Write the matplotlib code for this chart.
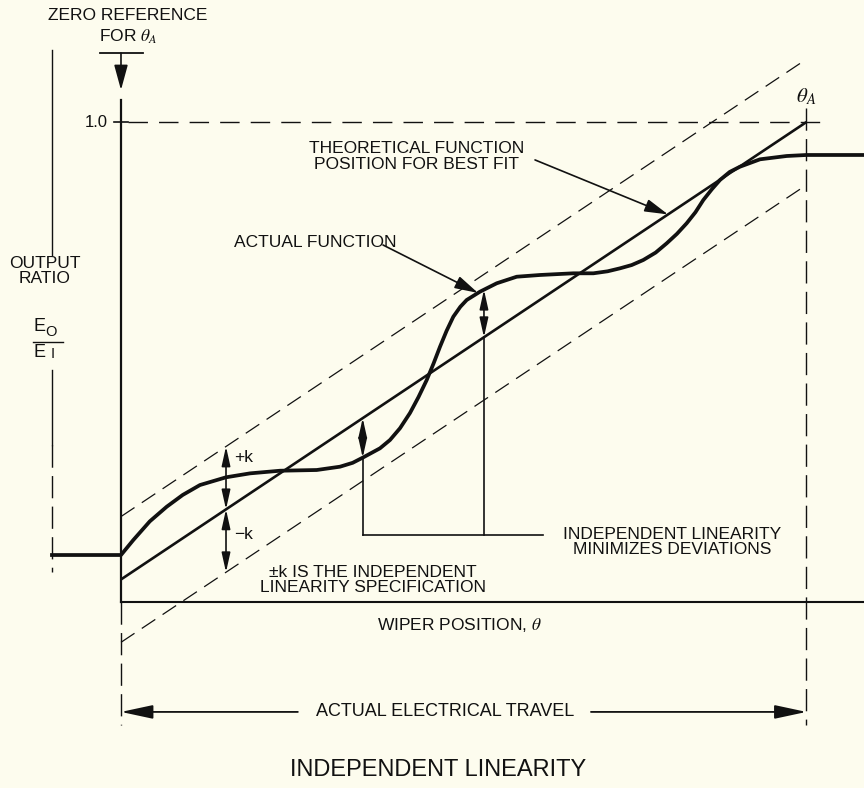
import matplotlib
matplotlib.use("Agg")
import matplotlib.pyplot as plt
from matplotlib import font_manager
import numpy as np

# ---------------- data (theta: 0 = zero reference, 1 = theta_A) ----------------
theta_actual = [-0.1007, 0.0, 0.0179, 0.0420, 0.0667, 0.0900, 0.1152, 0.1532, 0.1882,
                0.2319, 0.2855, 0.3195, 0.3380, 0.3530, 0.3778, 0.3924, 0.4070, 0.4216,
                0.4340, 0.4460, 0.4560, 0.4654, 0.4750, 0.4848, 0.4950, 0.5043, 0.5237,
                0.5481, 0.5773, 0.6113, 0.6600, 0.6891, 0.7100, 0.7280, 0.7450, 0.7619,
                0.7800, 0.7961, 0.8110, 0.8252, 0.8380, 0.8495, 0.8620, 0.8738, 0.8880,
                0.9030, 0.9322, 0.9711, 1.0, 1.0839]
ratio_actual = [0.0979, 0.0979, 0.1290, 0.1680, 0.1985, 0.2230, 0.2437, 0.2598, 0.2680,
                0.2735, 0.2750, 0.2819, 0.2900, 0.3010, 0.3202, 0.3375, 0.3620, 0.3938,
                0.4270, 0.4625, 0.4970, 0.5319, 0.5650, 0.5944, 0.6150, 0.6292, 0.6465,
                0.6640, 0.6777, 0.6813, 0.6848, 0.6848, 0.6890, 0.6952, 0.7020, 0.7125,
                0.7280, 0.7473, 0.7670, 0.7890, 0.8120, 0.8375, 0.8600, 0.8792, 0.8960,
                0.9069, 0.9223, 0.9292, 0.9313, 0.9313]

theta_best = [0.0, 1.0]
ratio_best = [0.047, 1.0]
k_spec = 0.131

theta_k_arrow = 0.1532
theta_dev_left = 0.3526
theta_dev_right = 0.5295

# ---------------- styling ----------------
BG = "#FDFCEE"
INK = "#111111"
avail = {f.name for f in font_manager.fontManager.ttflist}
SANS = ["Liberation Sans", "DejaVu Sans"]
NARROW = ["Liberation Sans Narrow", "Liberation Sans", "DejaVu Sans"] if "Liberation Sans Narrow" in avail else ["Liberation Sans", "DejaVu Sans"]
plt.rcParams["mathtext.fontset"] = "stix"
plt.rcParams["font.family"] = SANS

fig = plt.figure(figsize=(8.64, 7.88), dpi=100, facecolor=BG)
ax = fig.add_axes([0, 0, 1, 1])
ax.set_facecolor(BG)
ax.set_xlim(-0.1765, 1.0839)
ax.set_ylim(-0.3875, 1.2542)
ax.axis("off")

dash_thin = (0, (13, 7))
dash_vert = (0, (16, 6))

def best(t):
    return np.interp(t, theta_best, ratio_best)

def actual(t):
    return np.interp(t, theta_actual, ratio_actual)

# best-fit line and tolerance band
ax.plot(theta_best, ratio_best, color=INK, lw=1.9, solid_capstyle="butt")
ax.plot(theta_best, np.array(ratio_best) + k_spec, color=INK, lw=0.9, ls=dash_thin)
ax.plot(theta_best, np.array(ratio_best) - k_spec, color=INK, lw=0.9, ls=dash_thin)

# actual function
ax.plot(theta_actual, ratio_actual, color=INK, lw=2.7, solid_joinstyle="round")

# axes lines
ax.plot([0, 0], [0, 1.0458], color=INK, lw=1.6)
ax.plot([0, 0], [0, -0.256], color=INK, lw=1.0, ls=dash_vert)
ax.plot([0, 1.0839], [0, 0], color=INK, lw=1.5)
ax.plot([1.0, 1.0], [1.029, -0.256], color=INK, lw=1.0, ls=dash_vert)
ax.plot([0.0102, 1.0197], [1.0, 1.0], color=INK, lw=1.0, ls=(0, (14, 8)))
ax.plot([-0.0102, 0.0102], [1.0, 1.0], color=INK, lw=1.2)
ax.text(-0.019, 1.0, "1.0", ha="right", va="center", fontsize=12, color=INK)
ax.text(1.0, 1.052, r"$\theta_A$", ha="center", va="center", fontsize=15, color=INK)

# zero reference marker
ax.plot([-0.0306, 0.0321], [1.1438, 1.1438], color=INK, lw=1.3)
ax.annotate("", xy=(0, 1.0667), xytext=(0, 1.1438),
            arrowprops=dict(arrowstyle="-|>,head_length=1.1,head_width=0.3", color=INK,
                            lw=1.2, shrinkA=0, shrinkB=0, mutation_scale=14))
ax.text(0.0102, 1.2229, "ZERO REFERENCE", ha="center", va="center", fontsize=12.5, color=INK)
ax.text(0.0102, 1.177, r"FOR $\theta_A$", ha="center", va="center", fontsize=12.5, color=INK)

# output ratio indicator on the left
ax.plot([-0.1007, -0.1007], [1.15, 0.723], color=INK, lw=1.0)
ax.plot([-0.1007, -0.1007], [0.483, 0.327], color=INK, lw=1.0)
ax.plot([-0.1007, -0.1007], [0.327, 0.0625], color=INK, lw=1.0, ls=dash_vert)
ax.text(-0.1109, 0.6896, "OUTPUT\nRATIO", ha="center", va="center", fontsize=12.5,
        linespacing=1.05, color=INK)
ax.text(-0.1196, 0.573, "E", ha="center", va="center", fontsize=13, color=INK)
ax.text(-0.1021, 0.5625, "O", ha="center", va="center", fontsize=10.5, color=INK)
ax.plot([-0.1284, -0.0846], [0.5417, 0.5417], color=INK, lw=1.0)
ax.text(-0.1196, 0.5208, "E", ha="center", va="center", fontsize=13, color=INK)
ax.text(-0.0999, 0.5167, "I", ha="center", va="center", fontsize=10.5, color=INK)

# +k / -k arrows
arrow2 = dict(arrowstyle="<|-|>,head_length=0.9,head_width=0.2", color=INK, lw=1.2,
              shrinkA=0, shrinkB=0, mutation_scale=13)
yb = float(best(theta_k_arrow))
ax.annotate("", xy=(theta_k_arrow, yb + k_spec), xytext=(theta_k_arrow, yb), arrowprops=arrow2)
ax.annotate("", xy=(theta_k_arrow, yb - k_spec), xytext=(theta_k_arrow, yb), arrowprops=arrow2)
ax.text(0.1648, 0.302, "+k", ha="left", va="center", fontsize=12.5, color=INK)
ax.text(0.1648, 0.1396, "\u2212k", ha="left", va="center", fontsize=12.5, color=INK)
ax.text(0.3676, 0.0458, "\u00b1k IS THE INDEPENDENT\nLINEARITY SPECIFICATION", ha="center",
        va="center", fontsize=12.5, linespacing=1.0, color=INK)

# deviation bracket
y_br = 0.1396
for t in (theta_dev_left, theta_dev_right):
    yb_t, ya_t = float(best(t)), float(actual(t))
    ax.annotate("", xy=(t, ya_t), xytext=(t, yb_t), arrowprops=arrow2)
    ax.plot([t, t], [y_br, min(yb_t, ya_t)], color=INK, lw=1.2)
ax.plot([theta_dev_left, 0.6156], [y_br, y_br], color=INK, lw=1.2)
ax.text(0.8038, 0.124, "INDEPENDENT LINEARITY\nMINIMIZES DEVIATIONS", ha="center",
        va="center", fontsize=12.5, linespacing=1.0, color=INK)

# callouts
ax.text(0.283, 0.748, "ACTUAL FUNCTION", ha="center", va="center", fontsize=12.5, color=INK)
arrow1 = dict(arrowstyle="-|>,head_length=1.1,head_width=0.3", color=INK, lw=1.2,
              shrinkA=0, shrinkB=0, mutation_scale=13)
ax.annotate("", xy=(0.5208, float(actual(0.5208))), xytext=(0.3822, 0.7438), arrowprops=arrow1)
ax.text(0.4318, 0.928, "THEORETICAL FUNCTION\nPOSITION FOR BEST FIT", ha="center",
        va="center", fontsize=12.5, linespacing=1.05, color=INK)
ax.annotate("", xy=(0.798, float(best(0.798))), xytext=(0.604, 0.921), arrowprops=arrow1)

# x-axis label
ax.text(0.4945, -0.048, r"WIPER POSITION, $\theta$", ha="center", va="center", fontsize=12.5,
        color=INK)

# electrical travel
arrow_t = dict(arrowstyle="-|>,head_length=1.4,head_width=0.3", color=INK, lw=1.3,
               shrinkA=0, shrinkB=0, mutation_scale=14)
ax.annotate("", xy=(0, -0.229), xytext=(0.258, -0.229), arrowprops=arrow_t)
ax.annotate("", xy=(1.0, -0.229), xytext=(0.6856, -0.229), arrowprops=arrow_t)
ax.text(0.4727, -0.229, "ACTUAL ELECTRICAL TRAVEL", ha="center", va="center", fontsize=13,
        family=NARROW, color=INK)

# title
ax.text(0.4624, -0.35, "INDEPENDENT LINEARITY", ha="center", va="center", fontsize=17,
        family=NARROW, color=INK)

fig.savefig("out.png", dpi=100, facecolor=BG)
